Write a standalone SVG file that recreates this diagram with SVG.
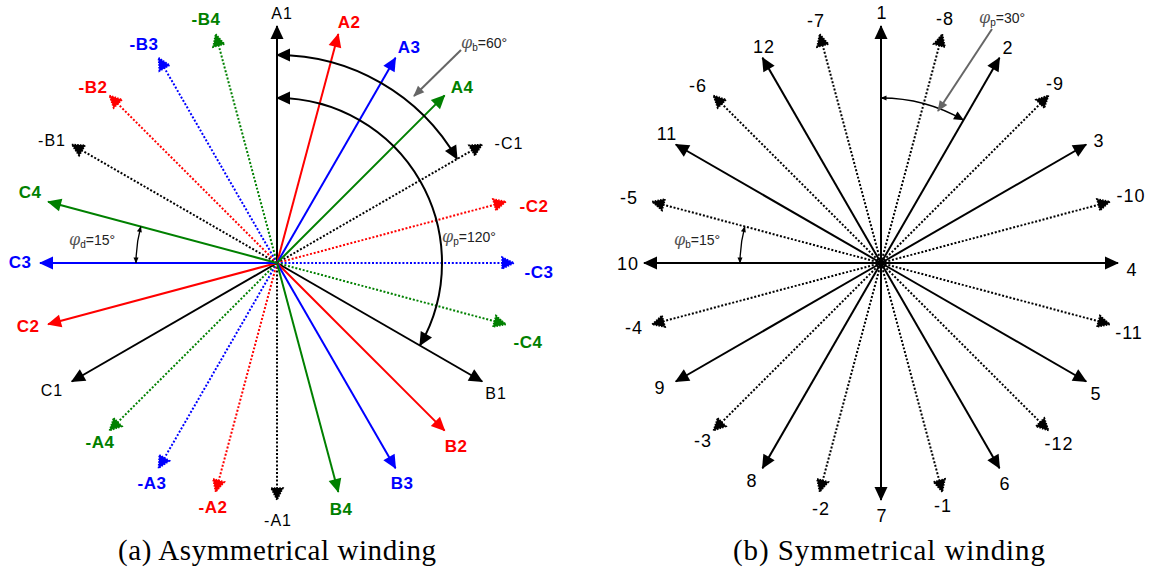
<svg xmlns="http://www.w3.org/2000/svg" width="1150" height="576" viewBox="0 0 1150 576">
<style>
.s{stroke-width:2;fill:none}
.d{stroke-width:2;fill:none;stroke-dasharray:2,1.8}
.k{stroke:#000}.r{stroke:#ff0000}.b{stroke:#0000ff}.g{stroke:#008000}
.lb{font-family:"Liberation Sans",Arial,sans-serif;font-size:16px;letter-spacing:1px;text-anchor:middle;fill:#000}
.bo{font-weight:bold;font-size:17px;letter-spacing:0.5px}
.fr{fill:#ff0000}.fb{fill:#0000ff}.fg{fill:#008000}
.rl{font-family:"Liberation Sans",Arial,sans-serif;font-size:18px;letter-spacing:1px;text-anchor:middle;fill:#000}
.ang{font-family:"Liberation Sans",Arial,sans-serif;font-size:14px;fill:#222}
.phi{font-family:"DejaVu Serif",serif;font-style:italic;font-size:16px;fill:#555}
.sub{font-size:10px}
.cap{font-family:"Liberation Serif","Times New Roman",serif;font-size:29px;text-anchor:middle;fill:#000}
.arc{stroke:#000;stroke-width:2;fill:none}
.lead{stroke:#666;stroke-width:2;fill:none}
</style>
<defs>
<marker id="hk" markerUnits="userSpaceOnUse" markerWidth="16" markerHeight="14" refX="13" refY="6.5" orient="auto" overflow="visible"><path d="M0,0 L14,6.5 L0,13 z" fill="#000"/></marker>
<marker id="hr" markerUnits="userSpaceOnUse" markerWidth="16" markerHeight="14" refX="13" refY="6.5" orient="auto" overflow="visible"><path d="M0,0 L14,6.5 L0,13 z" fill="#ff0000"/></marker>
<marker id="hb" markerUnits="userSpaceOnUse" markerWidth="16" markerHeight="14" refX="13" refY="6.5" orient="auto" overflow="visible"><path d="M0,0 L14,6.5 L0,13 z" fill="#0000ff"/></marker>
<marker id="hg" markerUnits="userSpaceOnUse" markerWidth="16" markerHeight="14" refX="13" refY="6.5" orient="auto" overflow="visible"><path d="M0,0 L14,6.5 L0,13 z" fill="#008000"/></marker>
<marker id="dk" markerUnits="userSpaceOnUse" markerWidth="14" markerHeight="13" refX="11" refY="6" orient="auto" overflow="visible"><path d="M0,0 L12,6 L0,12 z" fill="#000" stroke="#000" stroke-width="1.6" stroke-dasharray="1.5,1.2"/></marker>
<marker id="dr" markerUnits="userSpaceOnUse" markerWidth="14" markerHeight="13" refX="11" refY="6" orient="auto" overflow="visible"><path d="M0,0 L12,6 L0,12 z" fill="#ff0000" stroke="#ff0000" stroke-width="1.6" stroke-dasharray="1.5,1.2"/></marker>
<marker id="db" markerUnits="userSpaceOnUse" markerWidth="14" markerHeight="13" refX="11" refY="6" orient="auto" overflow="visible"><path d="M0,0 L12,6 L0,12 z" fill="#0000ff" stroke="#0000ff" stroke-width="1.6" stroke-dasharray="1.5,1.2"/></marker>
<marker id="dg" markerUnits="userSpaceOnUse" markerWidth="14" markerHeight="13" refX="11" refY="6" orient="auto" overflow="visible"><path d="M0,0 L12,6 L0,12 z" fill="#008000" stroke="#008000" stroke-width="1.6" stroke-dasharray="1.5,1.2"/></marker>
<marker id="ak" markerUnits="userSpaceOnUse" markerWidth="16" markerHeight="14" refX="13" refY="6.5" orient="auto-start-reverse" overflow="visible"><path d="M0,0 L14,6.5 L0,13 z" fill="#000"/></marker>
<marker id="mk" markerUnits="userSpaceOnUse" markerWidth="12" markerHeight="10" refX="9.5" refY="4.5" orient="auto-start-reverse" overflow="visible"><path d="M0,0 L10,4.5 L0,9 z" fill="#000"/></marker>
<marker id="sk" markerUnits="userSpaceOnUse" markerWidth="8" markerHeight="6" refX="5.5" refY="2.5" orient="auto-start-reverse" overflow="visible"><path d="M0,0 L6,2.5 L0,5 z" fill="#000"/></marker>
<marker id="gk" markerUnits="userSpaceOnUse" markerWidth="12" markerHeight="10" refX="10" refY="4.5" orient="auto" overflow="visible"><path d="M0,0 L11,4.5 L0,9 z" fill="#666"/></marker>
</defs>

<!-- (a) Asymmetrical winding -->
<g id="diagram-a">
<g id="connectors-a">
<line class="d k" x1="277" y1="263" x2="277" y2="499" marker-end="url(#dk)"/>
<line class="d r" x1="277" y1="263" x2="215.9" y2="491" marker-end="url(#dr)"/>
<line class="d b" x1="277" y1="263" x2="159" y2="467.4" marker-end="url(#db)"/>
<line class="d g" x1="277" y1="263" x2="110.1" y2="429.9" marker-end="url(#dg)"/>
<line class="d k" x1="277" y1="263" x2="72.6" y2="145" marker-end="url(#dk)"/>
<line class="d r" x1="277" y1="263" x2="110.1" y2="96.1" marker-end="url(#dr)"/>
<line class="d b" x1="277" y1="263" x2="159" y2="58.6" marker-end="url(#db)"/>
<line class="d g" x1="277" y1="263" x2="215.9" y2="35" marker-end="url(#dg)"/>
<line class="d k" x1="277" y1="263" x2="481.4" y2="145" marker-end="url(#dk)"/>
<line class="d r" x1="277" y1="263" x2="505" y2="201.9" marker-end="url(#dr)"/>
<line class="d b" x1="277" y1="263" x2="513" y2="263" marker-end="url(#db)"/>
<line class="d g" x1="277" y1="263" x2="505" y2="324.1" marker-end="url(#dg)"/>
<line class="s k" x1="277" y1="263" x2="277" y2="26" marker-end="url(#hk)"/>
<line class="s r" x1="277" y1="263" x2="338.3" y2="34.1" marker-end="url(#hr)"/>
<line class="s b" x1="277" y1="263" x2="395.5" y2="57.8" marker-end="url(#hb)"/>
<line class="s g" x1="277" y1="263" x2="444.6" y2="95.4" marker-end="url(#hg)"/>
<line class="s k" x1="277" y1="263" x2="482.2" y2="381.5" marker-end="url(#hk)"/>
<line class="s r" x1="277" y1="263" x2="444.6" y2="430.6" marker-end="url(#hr)"/>
<line class="s b" x1="277" y1="263" x2="395.5" y2="468.2" marker-end="url(#hb)"/>
<line class="s g" x1="277" y1="263" x2="338.3" y2="491.9" marker-end="url(#hg)"/>
<line class="s k" x1="277" y1="263" x2="71.8" y2="381.5" marker-end="url(#hk)"/>
<line class="s r" x1="277" y1="263" x2="48.1" y2="324.3" marker-end="url(#hr)"/>
<line class="s b" x1="277" y1="263" x2="40" y2="263" marker-end="url(#hb)"/>
<line class="s g" x1="277" y1="263" x2="48.1" y2="201.7" marker-end="url(#hg)"/>
<path class="arc" d="M277,55 A208,208 0 0 1 457.1,159" marker-start="url(#ak)" marker-end="url(#ak)"/>
<path class="arc" d="M277,98 A165,165 0 0 1 419.9,345.5" marker-start="url(#ak)" marker-end="url(#ak)"/>
<path class="arc" style="stroke-width:1.3" d="M140.8,226.5 A141,141 0 0 0 136,263" marker-start="url(#sk)" marker-end="url(#sk)"/>
<line class="lead" x1="461" y1="50" x2="414" y2="96" marker-end="url(#gk)"/>
</g>
<g id="labels-a">
<text class="lb" x="282" y="19">A1</text>
<text class="lb bo fr" x="349" y="28">A2</text>
<text class="lb bo fb" x="409" y="53">A3</text>
<text class="lb bo fg" x="462" y="93">A4</text>
<text class="lb" x="509" y="149">-C1</text>
<text class="lb bo fr" x="534" y="212">-C2</text>
<text class="lb bo fb" x="539" y="278">-C3</text>
<text class="lb bo fg" x="528" y="348">-C4</text>
<text class="lb" x="496" y="399">B1</text>
<text class="lb bo fr" x="456" y="452">B2</text>
<text class="lb bo fb" x="402" y="489">B3</text>
<text class="lb bo fg" x="341" y="515">B4</text>
<text class="lb" x="278" y="526">-A1</text>
<text class="lb bo fr" x="213" y="513">-A2</text>
<text class="lb bo fb" x="152" y="489">-A3</text>
<text class="lb bo fg" x="100" y="448">-A4</text>
<text class="lb" x="52" y="396">C1</text>
<text class="lb bo fr" x="28" y="332">C2</text>
<text class="lb bo fb" x="20" y="268">C3</text>
<text class="lb bo fg" x="30" y="198">C4</text>
<text class="lb" x="52" y="146">-B1</text>
<text class="lb bo fr" x="93" y="93">-B2</text>
<text class="lb bo fb" x="144" y="50">-B3</text>
<text class="lb bo fg" x="206" y="25">-B4</text>
<text class="ang" x="461" y="48"><tspan class="phi">φ</tspan><tspan class="sub" dy="3">b</tspan><tspan dy="-3">=60°</tspan></text>
<text class="ang" x="442" y="242"><tspan class="phi">φ</tspan><tspan class="sub" dy="3">p</tspan><tspan dy="-3">=120°</tspan></text>
<text class="ang" x="69" y="245"><tspan class="phi">φ</tspan><tspan class="sub" dy="3">d</tspan><tspan dy="-3">=15°</tspan></text>
</g>
<text id="caption-a" class="cap" x="277" y="560" textLength="318" lengthAdjust="spacing">(a) Asymmetrical winding</text>
</g>

<!-- (b) Symmetrical winding -->
<g id="diagram-b">
<g id="connectors-b">
<line class="d k" x1="881" y1="263" x2="942.1" y2="35" marker-end="url(#dk)"/>
<line class="d k" x1="881" y1="263" x2="1047.9" y2="96.1" marker-end="url(#dk)"/>
<line class="d k" x1="881" y1="263" x2="1109" y2="201.9" marker-end="url(#dk)"/>
<line class="d k" x1="881" y1="263" x2="1109" y2="324.1" marker-end="url(#dk)"/>
<line class="d k" x1="881" y1="263" x2="1047.9" y2="429.9" marker-end="url(#dk)"/>
<line class="d k" x1="881" y1="263" x2="942.1" y2="491" marker-end="url(#dk)"/>
<line class="d k" x1="881" y1="263" x2="819.9" y2="491" marker-end="url(#dk)"/>
<line class="d k" x1="881" y1="263" x2="714.1" y2="429.9" marker-end="url(#dk)"/>
<line class="d k" x1="881" y1="263" x2="653" y2="324.1" marker-end="url(#dk)"/>
<line class="d k" x1="881" y1="263" x2="653" y2="201.9" marker-end="url(#dk)"/>
<line class="d k" x1="881" y1="263" x2="714.1" y2="96.1" marker-end="url(#dk)"/>
<line class="d k" x1="881" y1="263" x2="819.9" y2="35" marker-end="url(#dk)"/>
<line class="s k" x1="881" y1="263" x2="881" y2="26" marker-end="url(#hk)"/>
<line class="s k" x1="881" y1="263" x2="999.5" y2="57.8" marker-end="url(#hk)"/>
<line class="s k" x1="881" y1="263" x2="1086.2" y2="144.5" marker-end="url(#hk)"/>
<line class="s k" x1="881" y1="263" x2="1118" y2="263" marker-end="url(#hk)"/>
<line class="s k" x1="881" y1="263" x2="1086.2" y2="381.5" marker-end="url(#hk)"/>
<line class="s k" x1="881" y1="263" x2="999.5" y2="468.2" marker-end="url(#hk)"/>
<line class="s k" x1="881" y1="263" x2="881" y2="500" marker-end="url(#hk)"/>
<line class="s k" x1="881" y1="263" x2="762.5" y2="468.2" marker-end="url(#hk)"/>
<line class="s k" x1="881" y1="263" x2="675.8" y2="381.5" marker-end="url(#hk)"/>
<line class="s k" x1="881" y1="263" x2="644" y2="263" marker-end="url(#hk)"/>
<line class="s k" x1="881" y1="263" x2="675.8" y2="144.5" marker-end="url(#hk)"/>
<line class="s k" x1="881" y1="263" x2="762.5" y2="57.8" marker-end="url(#hk)"/>
<path class="arc" style="stroke-width:1.5" d="M881,98 A165,165 0 0 1 963.5,120.1" marker-start="url(#sk)" marker-end="url(#mk)"/>
<path class="arc" style="stroke-width:1.3" d="M744.8,226.5 A141,141 0 0 0 740,263" marker-start="url(#sk)" marker-end="url(#sk)"/>
<line class="lead" x1="992" y1="29" x2="938" y2="111" marker-end="url(#gk)"/>
</g>
<g id="labels-b">
<text class="rl" x="882" y="19">1</text>
<text class="rl" x="945" y="25">-8</text>
<text class="rl" x="1008" y="54">2</text>
<text class="rl" x="1055" y="90">-9</text>
<text class="rl" x="1099" y="147">3</text>
<text class="rl" x="1131" y="202">-10</text>
<text class="rl" x="1132" y="276">4</text>
<text class="rl" x="1129" y="339">-11</text>
<text class="rl" x="1096" y="400">5</text>
<text class="rl" x="1059" y="450">-12</text>
<text class="rl" x="1005" y="490">6</text>
<text class="rl" x="943" y="512">-1</text>
<text class="rl" x="882" y="522">7</text>
<text class="rl" x="821" y="515">-2</text>
<text class="rl" x="752" y="487">8</text>
<text class="rl" x="703" y="447">-3</text>
<text class="rl" x="660" y="394">9</text>
<text class="rl" x="634" y="334">-4</text>
<text class="rl" x="628" y="270">10</text>
<text class="rl" x="629" y="204">-5</text>
<text class="rl" x="667" y="140">11</text>
<text class="rl" x="698" y="92">-6</text>
<text class="rl" x="764" y="53">12</text>
<text class="rl" x="816" y="27">-7</text>
<text class="ang" x="979" y="23"><tspan class="phi">φ</tspan><tspan class="sub" dy="3">p</tspan><tspan dy="-3">=30°</tspan></text>
<text class="ang" x="674" y="245"><tspan class="phi">φ</tspan><tspan class="sub" dy="3">b</tspan><tspan dy="-3">=15°</tspan></text>
</g>
<text id="caption-b" class="cap" x="889" y="560" textLength="312" lengthAdjust="spacing">(b) Symmetrical winding</text>
</g>
</svg>
